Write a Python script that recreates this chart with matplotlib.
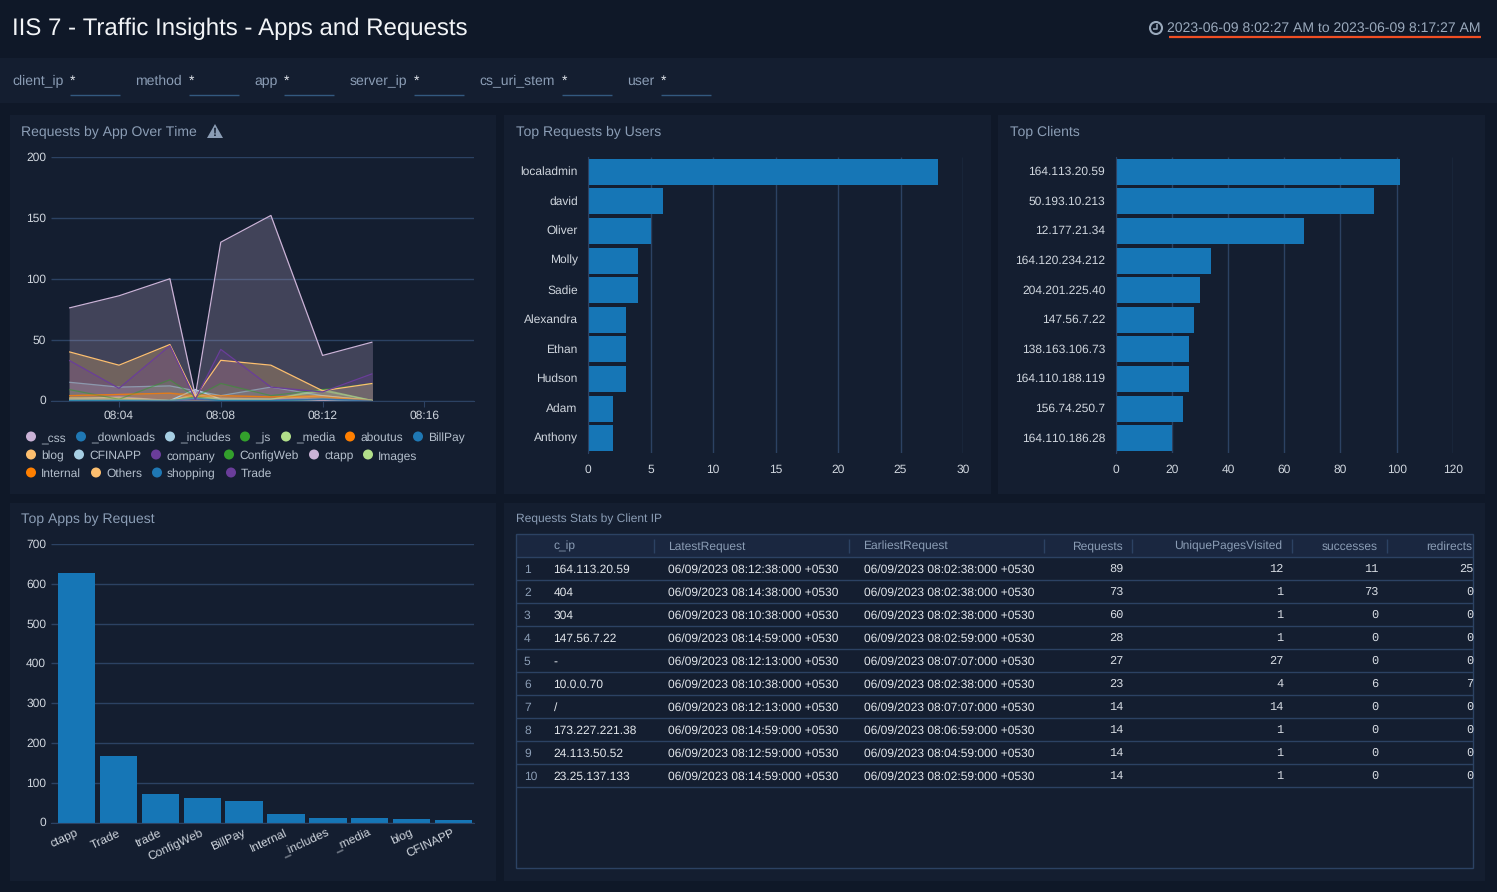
import matplotlib
matplotlib.use("Agg")
import matplotlib.pyplot as plt
from matplotlib.patches import Rectangle, Polygon, Circle
from matplotlib.transforms import ScaledTranslation

plt.rcParams["font.family"] = ["Liberation Sans", "DejaVu Sans"]
plt.rcParams["text.hinting"] = "no_hinting"
plt.rcParams["text.hinting_factor"] = 1
plt.rcParams["lines.solid_capstyle"] = "butt"

W, H = 1497, 892

# colours
PAGE = "#0f1828"
PANEL = "#141e30"
HEAD = "#1a2740"
GRID = "#2c4263"
TITLE = "#8b9db5"
TICK = "#d0d6de"
BAR = "#1676b6"

# minutes after 08:00
minutes = [2.04, 4, 6, 7, 8, 9.97, 12, 13.96]
time_ticks = [4, 8, 12, 16]
time_labels = ["08:04", "08:08", "08:12", "08:16"]

legend_names = ["_css", "_downloads", "_includes", "_js", "_media", "aboutus", "BillPay",
                "blog", "CFINAPP", "company", "ConfigWeb", "ctapp", "Images",
                "Internal", "Others", "shopping", "Trade"]
legend_colors = ["#cab2d6", "#1f78b4", "#a6cee3", "#33a02c", "#b2df8a", "#ff7f00", "#1f78b4",
                 "#fdbf6f", "#a6cee3", "#6a3d9a", "#33a02c", "#cab2d6", "#b2df8a",
                 "#ff7f00", "#fdbf6f", "#1f78b4", "#6a3d9a"]

css = [1, 3, 0, 1, 1, 1, 0, 0]
downloads = [0, 0, 0, 2, 0, 0, 1, 0]
includes = [0, 0, 0, 9, 1, 1, 1, 0]
js = [0, 0, 0, 3, 0, 0, 1, 0]
media = [2, 2, 0, 4, 1, 1, 9, 0]
aboutus = [4, 5, 6, 5, 4, 3, 4, 0]
billpay = [0, 0, 0, 1, 0, 0, 1, 0]
blog = [2, 2, 0, 5, 2, 1, 4, 0]
cfinapp = [15, 11, 12, 8, 4, 11, 4, 0]
company = [1, 1, 0, 1, 1, 1, 1, 0]
configweb = [9, 1, 17, 3, 14, 4, 9, 14]
ctapp = [76, 86, 100, 4, 130, 152, 37, 48]
images = [1, 1, 0, 2, 1, 1, 8, 0]
internal = [4, 5, 6, 3, 4, 3, 3, 0]
others = [40, 29, 46, 3, 33, 29, 8, 14]
shopping = [0, 0, 0, 2, 0, 0, 1, 0]
trade = [33, 10, 45, 1, 42, 11, 7, 22]

app_series = [css, downloads, includes, js, media, aboutus, billpay, blog, cfinapp, company,
              configweb, ctapp, images, internal, others, shopping, trade]

users = ["localadmin", "david", "Oliver", "Molly", "Sadie", "Alexandra", "Ethan", "Hudson", "Adam", "Anthony"]
user_requests = [28, 6, 5, 4, 4, 3, 3, 3, 2, 2]

clients = ["164.113.20.59", "50.193.10.213", "12.177.21.34", "164.120.234.212", "204.201.225.40",
           "147.56.7.22", "138.163.106.73", "164.110.188.119", "156.74.250.7", "164.110.186.28"]
client_requests = [101, 92, 67, 34, 30, 28, 26, 26, 24, 20]

top_apps = ["ctapp", "Trade", "trade", "ConfigWeb", "BillPay", "Internal", "_includes", "_media", "blog", "CFINAPP"]
top_app_requests = [628, 168, 72, 62, 55, 22, 12, 11, 9, 7]

table_head = ["c_ip", "LatestRequest", "EarliestRequest", "Requests", "UniquePagesVisited", "successes", "redirects"]
c_ip = ["164.113.20.59", "404", "304", "147.56.7.22", "-", "10.0.0.70", "/", "173.227.221.38", "24.113.50.52", "23.25.137.133"]
latest = ["06/09/2023 08:12:38:000 +0530", "06/09/2023 08:14:38:000 +0530", "06/09/2023 08:10:38:000 +0530",
          "06/09/2023 08:14:59:000 +0530", "06/09/2023 08:12:13:000 +0530", "06/09/2023 08:10:38:000 +0530",
          "06/09/2023 08:12:13:000 +0530", "06/09/2023 08:14:59:000 +0530", "06/09/2023 08:12:59:000 +0530",
          "06/09/2023 08:14:59:000 +0530"]
earliest = ["06/09/2023 08:02:38:000 +0530", "06/09/2023 08:02:38:000 +0530", "06/09/2023 08:02:38:000 +0530",
            "06/09/2023 08:02:59:000 +0530", "06/09/2023 08:07:07:000 +0530", "06/09/2023 08:02:38:000 +0530",
            "06/09/2023 08:07:07:000 +0530", "06/09/2023 08:06:59:000 +0530", "06/09/2023 08:04:59:000 +0530",
            "06/09/2023 08:02:59:000 +0530"]
requests = [89, 73, 60, 28, 27, 23, 14, 14, 14, 14]
unique_pages = [12, 1, 1, 1, 27, 4, 14, 1, 1, 1]
successes = [11, 73, 0, 0, 0, 6, 0, 0, 0, 0]
redirects = [25, 0, 0, 0, 0, 7, 0, 0, 0, 0]

filters = ["client_ip", "method", "app", "server_ip", "cs_uri_stem", "user"]


def px_axes(fig, left, top, right, bottom):
    ax = fig.add_axes([left / W, 1 - bottom / H, (right - left) / W, (bottom - top) / H])
    ax.patch.set_alpha(0)
    for s in ax.spines.values():
        s.set_visible(False)
    ax.tick_params(colors=TICK, labelsize=8.64, length=0)
    ax.set_axisbelow(True)
    return ax


def nudge(fig, labels, dx, dy):
    # move tick labels by some pixels, dy up
    off = ScaledTranslation(dx / 100, dy / 100, fig.dpi_scale_trans)
    for lab in labels:
        lab.set_transform(lab.get_transform() + off)


def hbar_panel(fig, left, right, names, values, xmax, step):
    ax = px_axes(fig, left, 157, right, 453)
    ax.barh(range(len(names)), values, height=0.88, color=BAR, zorder=2)
    ax.set_ylim(len(names) - 0.5, -0.5)
    ax.set_xlim(0, xmax)
    ax.set_xticks(range(0, xmax + 1, step))
    ax.set_yticks(range(len(names)))
    ax.set_yticklabels(names)
    ax.grid(axis="x", color=GRID, linewidth=1)
    ax.spines["left"].set_visible(True)
    ax.spines["left"].set_color(GRID)
    ax.tick_params(axis="y", pad=7)
    ax.tick_params(axis="x", pad=8)
    nudge(fig, ax.get_yticklabels(), -0.5, 1)
    return ax


fig = plt.figure(figsize=(W / 100, H / 100), dpi=100, facecolor=PAGE)

# page chrome, in pixels
bg = fig.add_axes([0, 0, 1, 1])
bg.set_xlim(0, W)
bg.set_ylim(H, 0)
bg.axis("off")


def txt(x, y, s, **kw):
    kw.setdefault("va", "center")
    kw.setdefault("fontsize", 8.64)
    bg.text(x, y + 1, s, **kw)


bg.add_patch(Rectangle((0, 58), W, 45, color=PANEL, lw=0))
for x0, y0, x1, y1 in [(10, 115, 496, 494), (504, 115, 991, 494), (998, 115, 1485, 494),
                       (10, 503, 496, 881), (504, 503, 1485, 881)]:
    bg.add_patch(Rectangle((x0, y0), x1 - x0, y1 - y0, color=PANEL, lw=0))

txt(12.5, 27.5, "IIS 7 - Traffic Insights - Apps and Requests", color="#f2f4f7", fontsize=17.28)
txt(1481, 27.5, "2023-06-09 8:02:27 AM to 2023-06-09 8:17:27 AM", color="#9aa9bc", fontsize=9.94, ha="right")
bg.plot([1169, 1481], [36.5, 36.5], color="#f04e23", lw=1.6)
bg.add_patch(Circle((1156, 28), 6, fill=False, ec="#9aa9bc", lw=1.5))
bg.plot([1156.5, 1156.5, 1152.5], [24, 28.5, 28.5], color="#9aa9bc", lw=1.1)

filter_x = [12.5, 135.5, 254.5, 350, 479.5, 627.5]
star_x = [70, 189, 284, 414, 562, 661]
for name, fx, sx in zip(filters, filter_x, star_x):
    txt(fx, 80, name, color=TITLE, fontsize=10)
    txt(sx, 80, "*", color="#e4e8ee", fontsize=10)
    bg.plot([sx, sx + 50], [94.5, 94.5], color="#33597f", lw=1)

txt(21, 131, "Requests by App Over Time", color=TITLE, fontsize=10)
bg.add_patch(Polygon([(215, 124), (223, 138), (207, 138)], closed=True, color=TITLE, lw=0))
txt(215, 132, "!", color=PANEL, fontsize=8.5, fontweight="bold", ha="center")
txt(516, 131, "Top Requests by Users", color=TITLE, fontsize=10)
txt(1010, 131, "Top Clients", color=TITLE, fontsize=10)
txt(21, 518, "Top Apps by Request", color=TITLE, fontsize=10)
txt(516, 518, "Requests Stats by Client IP", color=TITLE)

# legend of the area chart
legend_x = [31, 81, 170, 245, 286, 350, 418,
            31, 79, 156, 229, 314, 368,
            31, 96, 157, 231]
legend_y = [437] * 7 + [455] * 6 + [473] * 4
for name, col, lx, ly in zip(legend_names, legend_colors, legend_x, legend_y):
    bg.add_patch(Circle((lx, ly - 0.5), 5, color=col, lw=0))
    txt(lx + 10, ly, name, color="#b4bfcc")

# table
bg.add_patch(Rectangle((516, 534), 957, 23, color=HEAD, lw=0))
bg.add_patch(Rectangle((516, 534), 956.5, 334, fill=False, ec=GRID, lw=1))
row_h = 23
for i in range(len(c_ip) + 1):
    y = 557 + i * row_h
    bg.plot([516, 1472.5], [y, y], color=GRID, lw=1)
for x in [653.5, 848.5, 1043.5, 1131.5, 1291.5, 1386.5]:
    bg.plot([x, x], [539, 553], color=GRID, lw=1)

left_cols = [553.5, 668.5, 863.5]
right_cols = [1123, 1283, 1378, 1473]
for name, x in zip(table_head[:3], left_cols):
    txt(x, 545.5, name, color=TITLE)
for name, x in zip(table_head[3:], right_cols):
    txt(x - 0.5, 545.5, name, color=TITLE, ha="right")
for i in range(len(c_ip)):
    y = 568.5 + i * row_h
    txt(524, y, str(i + 1), color=TITLE)
    for col, x in zip([c_ip, latest, earliest], left_cols):
        txt(x, y, col[i], color="#e2e6eb")
    for col, x in zip([requests, unique_pages, successes, redirects], right_cols):
        txt(x + 0.5, y - 0.5, str(col[i]), color="#d8dde4", ha="right",
            family=["Liberation Mono", "DejaVu Sans Mono"])

# requests by app over time
ax = px_axes(fig, 51, 157, 474, 400.5)
for name, vals, col in zip(legend_names, app_series, legend_colors):
    line_alpha = 1.0 if name in ("ctapp", "Others", "_includes", "Trade") else 0.55
    ax.fill_between(minutes, 0, vals, color=col, alpha=0.25, lw=0, zorder=2)
    ax.plot(minutes, vals, color=col, lw=0.9, alpha=line_alpha, zorder=3)
ax.set_xlim(1.328, 17.95)
ax.set_ylim(0, 200)
ax.set_yticks([0, 50, 100, 150, 200])
ax.set_xticks(time_ticks)
ax.set_xticklabels(time_labels)
ax.grid(axis="y", color=GRID, linewidth=1)
ax.tick_params(axis="x", length=4, color=GRID, pad=3)
ax.tick_params(axis="y", pad=3.5)
nudge(fig, ax.get_yticklabels(), 0, 0.5)
ax.spines["bottom"].set_visible(True)
ax.spines["bottom"].set_color(GRID)

# top users and top clients
hbar_panel(fig, 588, 963, users, user_requests, 30, 5)
hbar_panel(fig, 1115.5, 1453, clients, client_requests, 120, 20)

# top apps
ax = px_axes(fig, 51, 544, 474, 822.5)
ax.bar(range(len(top_apps)), top_app_requests, width=0.89, color=BAR, zorder=2)
ax.set_xlim(-0.609, 9.487)
ax.set_ylim(0, 700)
ax.set_yticks(range(0, 701, 100))
ax.set_xticks(range(len(top_apps)))
ax.set_xticklabels(top_apps, rotation=25, ha="right", rotation_mode="anchor")
ax.grid(axis="y", color=GRID, linewidth=1)
ax.tick_params(axis="x", pad=3.5)
ax.tick_params(axis="y", pad=3.5)
nudge(fig, ax.get_xticklabels(), -1.5, 0)
nudge(fig, ax.get_yticklabels(), 0, 0.5)
ax.spines["bottom"].set_visible(True)
ax.spines["bottom"].set_color(GRID)

fig.savefig("out.png", dpi=100, facecolor=PAGE)
